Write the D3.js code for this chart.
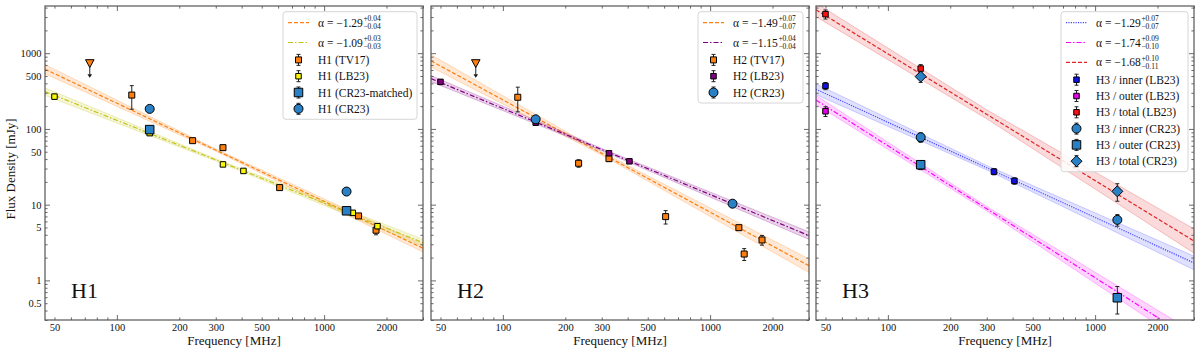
<!DOCTYPE html>
<html>
<head>
<meta charset="utf-8">
<script src="https://cdn.jsdelivr.net/npm/d3@7"></script>
<style>
  body { margin: 0; background: #fff; }
  svg text { font-family: "Liberation Serif", "DejaVu Serif", serif; fill: #111; }
</style>
</head>
<body>
<div id="chart"></div>
<script>
// tick labels
const freqLabels = [50, 100, 200, 300, 500, 1000, 2000];
const fluxLabels = [0.5, 1, 5, 10, 50, 100, 500, 1000];

// points: [freq MHz, flux mJy, err down, err up]
const h1TV17 = [[118, 280, 98, 93], [232, 70, 4, 4], [325, 56.6, 4, 4], [610, 16.8, 1.2, 1.2], [1466, 7.1, 0.5, 0.5], [1780, 4.6, 0.6, 0.6]];
const h1TV17Limit = [[74, 738]];
const h1LB23 = [[50, 267, 20, 20], [144, 88, 6, 6], [325, 34, 2, 2], [408, 27.9, 1.5, 1.5], [1375, 7.8, 0.5, 0.5], [1809, 5.2, 0.4, 0.4]];
const h1CR23m = [[144, 98, 7, 7], [1283, 8.3, 0.5, 0.5]];
const h1CR23 = [[144, 184, 10, 10], [1283, 14.9, 0.8, 0.8]];

const h2TV17 = [[118, 262, 94, 94], [232, 35.2, 4, 4], [325, 40.5, 3, 3], [610, 6.95, 1.4, 1.4], [1376, 4.97, 0.35, 0.35], [1460, 2.23, 0.4, 0.4], [1780, 3.42, 0.5, 0.5]];
const h2TV17Limit = [[74, 738]];
const h2LB23 = [[50, 418, 30, 30], [144, 121, 10, 10], [325, 47.8, 3, 3], [408, 37.4, 2, 2]];
const h2CR23 = [[144, 134, 8, 8], [1283, 10.3, 0.5, 0.5]];

const h3InnerLB = [[50, 370, 40, 40], [144, 75, 6, 6], [325, 27.3, 2.5, 2.5], [408, 20.6, 2, 2]];
const h3OuterLB = [[50, 171, 25, 25], [144, 32, 3, 3]];
const h3TotalLB = [[50, 3275, 450, 450], [144, 627, 80, 80]];
const h3InnerCR = [[144, 77.6, 11, 11], [1280, 6.3, 1.1, 1.1]];
const h3OuterCR = [[144, 33.7, 4, 4], [1280, 0.59, 0.23, 0.24]];
const h3TotalCR = [[144, 491, 80, 80], [1280, 15, 3.9, 3.9]];

// fits: [alpha, +err, -err, S at 45 MHz, S at 3000 MHz]; band: half width (dex) at 45, 300, 3000 MHz
const h1FitTV17 = ['1.29', '0.04', '0.04', 615, 2.66];
const h1FitTV17Band = [0.06, 0.015, 0.05];
const h1FitLB23 = ['1.09', '0.03', '0.03', 311, 3.15];
const h1FitLB23Band = [0.05, 0.015, 0.045];
const h2FitTV17 = ['1.49', '0.07', '0.07', 791, 1.56];
const h2FitTV17Band = [0.08, 0.02, 0.09];
const h2FitLB23 = ['1.15', '0.04', '0.04', 462, 3.9];
const h2FitLB23Band = [0.04, 0.015, 0.05];
const h3FitInner = ['1.29', '0.07', '0.07', 334, 1.7];
const h3FitInnerBand = [0.07, 0.03, 0.09];
const h3FitOuter = ['1.74', '0.09', '0.10', 241, 0.16];
const h3FitOuterBand = [0.06, 0.03, 0.11];
const h3FitTotal = ['1.68', '0.10', '0.11', 3733, 3.31];
const h3FitTotalBand = [0.09, 0.06, 0.16];

const orange = '#ff7f0e', cblue = '#2a80c4';

const panels = [
  { name: 'H1', left: 45, limit: h1TV17Limit, legendW: 134,
    fits: [
      { p: h1FitTV17, band: h1FitTV17Band, color: orange, dash: '4,2' },
      { p: h1FitLB23, band: h1FitLB23Band, color: '#c4c416', dash: '5,2,1.5,2' }],
    series: [
      { label: 'H1 (TV17)', data: h1TV17, shape: 'square', size: 6, fill: orange },
      { label: 'H1 (LB23)', data: h1LB23, shape: 'square', size: 5.5, fill: '#f8f800' },
      { label: 'H1 (CR23-matched)', data: h1CR23m, shape: 'square', size: 8.5, fill: cblue },
      { label: 'H1 (CR23)', data: h1CR23, shape: 'circle', size: 9, fill: cblue }] },
  { name: 'H2', left: 431, limit: h2TV17Limit, legendW: 105,
    fits: [
      { p: h2FitTV17, band: h2FitTV17Band, color: orange, dash: '4,2' },
      { p: h2FitLB23, band: h2FitLB23Band, color: '#800080', dash: '5,2,1.5,2' }],
    series: [
      { label: 'H2 (TV17)', data: h2TV17, shape: 'square', size: 6, fill: orange },
      { label: 'H2 (LB23)', data: h2LB23, shape: 'square', size: 5.5, fill: '#800080' },
      { label: 'H2 (CR23)', data: h2CR23, shape: 'circle', size: 9, fill: cblue }] },
  { name: 'H3', left: 816, limit: [], legendW: 127,
    fits: [
      { p: h3FitInner, band: h3FitInnerBand, color: '#4848ff', dash: '1.2,1.2' },
      { p: h3FitOuter, band: h3FitOuterBand, color: '#ff00ff', dash: '5,2,1.5,2' },
      { p: h3FitTotal, band: h3FitTotalBand, color: '#e02424', dash: '4,2' }],
    series: [
      { label: 'H3 / inner (LB23)', data: h3InnerLB, shape: 'square', size: 5.5, fill: '#1212e6' },
      { label: 'H3 / outer (LB23)', data: h3OuterLB, shape: 'square', size: 5.5, fill: '#e600e6' },
      { label: 'H3 / total (LB23)', data: h3TotalLB, shape: 'square', size: 5.5, fill: '#ff1010' },
      { label: 'H3 / inner (CR23)', data: h3InnerCR, shape: 'circle', size: 9, fill: cblue },
      { label: 'H3 / outer (CR23)', data: h3OuterCR, shape: 'square', size: 8.5, fill: cblue },
      { label: 'H3 / total (CR23)', data: h3TotalCR, shape: 'diamond', size: 11, fill: cblue }] }
];

const width = 1200, height = 353;
const plotTop = 6, plotBottom = 320, panelW = 378;
const freqDomain = [45, 3000];

const svg = d3.select('#chart').append('svg')
  .attr('width', width).attr('height', height);

const y = d3.scaleLog().domain([0.3, 4200]).range([plotBottom, plotTop]);

function markerPath(shape, size) {
  const s = size / 2;
  if (shape === 'square') return `M${-s},${-s}H${s}V${s}H${-s}Z`;
  if (shape === 'diamond') return `M0,${-s}L${s},0L0,${s}L${-s},0Z`;
  return d3.symbol(d3.symbolCircle, Math.PI * s * s)();
}

function drawMarker(g, sr, cx, cy) {
  g.append('path')
    .attr('d', markerPath(sr.shape, sr.size))
    .attr('transform', `translate(${cx},${cy})`)
    .attr('fill', sr.fill).attr('stroke', '#000').attr('stroke-width', 1);
}

function drawErr(g, cx, y0, y1) {
  g.append('line').attr('x1', cx).attr('x2', cx).attr('y1', y0).attr('y2', y1)
    .attr('stroke', '#222').attr('stroke-width', 1);
  [y0, y1].forEach(v => g.append('line').attr('x1', cx - 2).attr('x2', cx + 2)
    .attr('y1', v).attr('y2', v).attr('stroke', '#222').attr('stroke-width', 1));
}

panels.forEach((pn, pi) => {
  const x = d3.scaleLog().domain(freqDomain).range([pn.left, pn.left + panelW]);
  const g = svg.append('g');

  g.append('clipPath').attr('id', 'clip' + pi).append('rect')
    .attr('x', pn.left).attr('y', plotTop).attr('width', panelW).attr('height', plotBottom - plotTop);
  const plot = g.append('g').attr('clip-path', `url(#clip${pi})`);

  // fit lines and bands
  const lf0 = Math.log10(freqDomain[0]), lf1 = Math.log10(freqDomain[1]);
  pn.fits.forEach(ft => {
    const s0 = Math.log10(ft.p[3]), s1 = Math.log10(ft.p[4]);
    const lineAt = f => s0 + (s1 - s0) * (Math.log10(f) - lf0) / (lf1 - lf0);
    const bandF = [45, 300, 3000];
    const upper = bandF.map((f, i) => [x(f), y(Math.pow(10, lineAt(f) + ft.band[i]))]);
    const lower = bandF.map((f, i) => [x(f), y(Math.pow(10, lineAt(f) - ft.band[i]))]);
    plot.append('path')
      .attr('d', d3.line()(upper.concat(lower.reverse())) + 'Z')
      .attr('fill', ft.color).attr('fill-opacity', 0.17)
      .attr('stroke', ft.color).attr('stroke-opacity', 0.3).attr('stroke-width', 0.8);
    plot.append('line')
      .attr('x1', x(freqDomain[0])).attr('y1', y(ft.p[3]))
      .attr('x2', x(freqDomain[1])).attr('y2', y(ft.p[4]))
      .attr('stroke', ft.color).attr('stroke-width', 1.2)
      .attr('stroke-dasharray', ft.dash);
  });

  // upper limits
  pn.limit.forEach(d => {
    const cx = x(d[0]), cy = y(d[1]);
    plot.append('line').attr('x1', cx).attr('x2', cx).attr('y1', cy).attr('y2', cy + 11)
      .attr('stroke', '#222').attr('stroke-width', 1);
    plot.append('path').attr('d', `M${cx - 2.3},${cy + 11}L${cx + 2.3},${cy + 11}L${cx},${cy + 14.5}Z`)
      .attr('fill', '#111');
    plot.append('path').attr('d', `M${cx - 4.3},${cy - 3.5}L${cx + 4.3},${cy - 3.5}L${cx},${cy + 4.3}Z`)
      .attr('fill', orange).attr('stroke', '#000').attr('stroke-width', 1);
  });

  // data points
  pn.series.forEach(sr => {
    sr.data.forEach(d => {
      drawErr(plot, x(d[0]), y(d[1] - d[2]), y(d[1] + d[3]));
      drawMarker(plot, sr, x(d[0]), y(d[1]));
    });
  });

  // axes: ticks inward on all sides
  const xAll = x.ticks();
  const xMajor = xAll.filter(v => Math.abs(Math.log10(v) - Math.round(Math.log10(v))) < 1e-9);
  const xMinor = xAll.filter(v => !xMajor.includes(v));
  const yAll = y.ticks();
  const yMajor = yAll.filter(v => Math.abs(Math.log10(v) - Math.round(Math.log10(v))) < 1e-9);
  const yMinor = yAll.filter(v => !yMajor.includes(v));

  const tickAxes = [
    [d3.axisBottom(x), `translate(0,${plotBottom})`, xMajor, xMinor],
    [d3.axisTop(x), `translate(0,${plotTop})`, xMajor, xMinor],
    [d3.axisLeft(y), `translate(${pn.left},0)`, yMajor, yMinor],
    [d3.axisRight(y), `translate(${pn.left + panelW},0)`, yMajor, yMinor]
  ];
  tickAxes.forEach(([ax, tr, maj, min]) => {
    [[maj, -5], [min, -2.6]].forEach(([vals, len]) => {
      const a = g.append('g').attr('transform', tr)
        .call(ax.tickValues(vals).tickSizeInner(len).tickSizeOuter(0).tickFormat(''));
      a.select('.domain').remove();
      a.selectAll('line').attr('stroke', '#444').attr('stroke-width', 0.8);
    });
  });

  const xl = g.append('g').attr('transform', `translate(0,${plotBottom})`)
    .call(d3.axisBottom(x).tickValues(freqLabels).tickSize(0).tickPadding(4).tickFormat(d => d));
  xl.select('.domain').remove();
  xl.selectAll('text').attr('font-size', 10.5).style('font-family', '"Liberation Serif", serif');

  if (pi === 0) {
    const yl = g.append('g').attr('transform', `translate(${pn.left},0)`)
      .call(d3.axisLeft(y).tickValues(fluxLabels).tickSize(0).tickPadding(3.5).tickFormat(d => d));
    yl.select('.domain').remove();
    yl.selectAll('text').attr('font-size', 10.5).style('font-family', '"Liberation Serif", serif');
    svg.append('text').attr('transform', `translate(15,${(plotTop + plotBottom) / 2 + 6}) rotate(-90)`)
      .attr('text-anchor', 'middle').attr('font-size', 13).text('Flux Density [mJy]');
  }

  g.append('rect').attr('x', pn.left).attr('y', plotTop).attr('width', panelW).attr('height', plotBottom - plotTop)
    .attr('fill', 'none').attr('stroke', '#555').attr('stroke-width', 1.2);

  g.append('text').attr('x', pn.left + panelW / 2).attr('y', 344.5)
    .attr('text-anchor', 'middle').attr('font-size', 13).text('Frequency [MHz]');

  g.append('text').attr('x', pn.left + 26).attr('y', 298)
    .attr('font-size', 22).text(pn.name);

  // legend
  const lx = pn.left + panelW - 6 - pn.legendW, ly = 11.7;
  const rows = [];
  pn.fits.forEach((f, i) => rows.push(ly + 11 + i * 19.8));
  const base = rows[rows.length - 1] + 17.4;
  pn.series.forEach((s, i) => rows.push(base + i * 16.3));
  const lh = rows[rows.length - 1] + 10.5 - ly;
  const lg = g.append('g');
  lg.append('rect').attr('x', lx).attr('y', ly).attr('width', pn.legendW).attr('height', lh)
    .attr('rx', 3).attr('fill', '#fff').attr('fill-opacity', 0.85)
    .attr('stroke', '#d6d6d6').attr('stroke-width', 1);
  const sx0 = lx + 5, sx1 = lx + 26, tx = lx + 35;
  pn.fits.forEach((ft, i) => {
    const ry = rows[i];
    lg.append('line').attr('x1', sx0).attr('x2', sx1).attr('y1', ry).attr('y2', ry)
      .attr('stroke', ft.color).attr('stroke-width', 1.2).attr('stroke-dasharray', ft.dash);
    const t = lg.append('text').attr('x', tx).attr('y', ry + 4).attr('font-size', 11.5)
      .text('α = −' + ft.p[0]);
    const tw = t.node().getComputedTextLength();
    lg.append('text').attr('x', tx + tw + 0.5).attr('y', ry - 1.5).attr('font-size', 7.5).text('+' + ft.p[1]);
    lg.append('text').attr('x', tx + tw + 0.5).attr('y', ry + 6.5).attr('font-size', 7.5).text('−' + ft.p[2]);
  });
  pn.series.forEach((sr, i) => {
    const ry = rows[pn.fits.length + i], cx = (sx0 + sx1) / 2;
    drawErr(lg, cx, ry + 5.5, ry - 5.5);
    drawMarker(lg, sr, cx, ry);
    lg.append('text').attr('x', tx).attr('y', ry + 4).attr('font-size', 11.5).text(sr.label);
  });
});
</script>
</body>
</html>
